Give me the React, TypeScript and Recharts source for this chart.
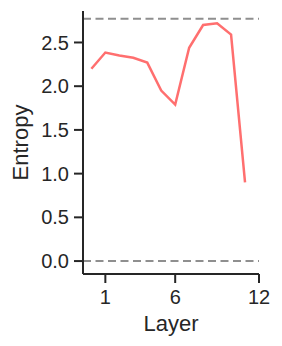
import React from 'react';
import { LineChart, Line, XAxis, YAxis, ReferenceLine } from 'recharts';

const layers = [0, 1, 2, 3, 4, 5, 6, 7, 8, 9, 10, 11];
const entropy = [2.2, 2.385, 2.35, 2.325, 2.27, 1.95, 1.79, 2.44, 2.7, 2.72, 2.59, 0.9];
const xTicks = [1, 6, 12];
const yTicks = [0, 0.5, 1, 1.5, 2, 2.5];
const maxEntropy = Math.log(16);

const data = layers.map((layer, i) => ({ layer, entropy: entropy[i] }));

const axisColor = '#262626';
const font = 'Liberation Sans, Arial, sans-serif';

const App: React.FC = () => {
  return (
    <div style={{ position: 'absolute', left: 0, top: 0, width: 282, height: 346, background: '#fff' }}>
      <LineChart width={282} height={346} data={data} margin={{ top: 11, right: 23, bottom: 0, left: 0 }}>
        <XAxis
          dataKey="layer"
          type="number"
          domain={[-0.6, 12]}
          ticks={xTicks}
          allowDataOverflow
          height={72}
          stroke={axisColor}
          strokeWidth={2}
          tickSize={9}
          tickMargin={7}
          tick={{ fill: axisColor, fontSize: 20, fontFamily: font }}
          label={{ value: 'Layer', position: 'insideBottom', offset: 15, fill: axisColor, fontSize: 22, fontFamily: font }}
        />
        <YAxis
          type="number"
          domain={[-0.148, 2.86]}
          ticks={yTicks}
          allowDataOverflow
          width={83}
          stroke={axisColor}
          strokeWidth={2}
          tickSize={9}
          tickMargin={5}
          tickFormatter={(v: number) => v.toFixed(1)}
          tick={{ fill: axisColor, fontSize: 20, fontFamily: font }}
          label={{ value: 'Entropy', angle: -90, position: 'insideLeft', offset: 20, fill: axisColor, fontSize: 22, fontFamily: font, style: { textAnchor: 'middle' } }}
        />
        <ReferenceLine y={0} stroke="#8f8f8f" strokeWidth={2} strokeDasharray="8 4.5" />
        <ReferenceLine y={maxEntropy} stroke="#8f8f8f" strokeWidth={2} strokeDasharray="8 4.5" />
        <Line
          dataKey="entropy"
          type="linear"
          stroke="#ff6f6f"
          strokeWidth={2.5}
          dot={false}
          isAnimationActive={false}
        />
      </LineChart>
    </div>
  );
};

export default App;
